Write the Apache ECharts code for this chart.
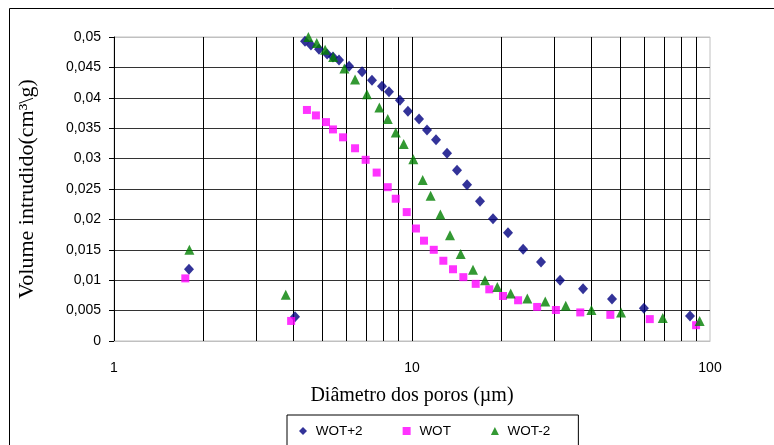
<!DOCTYPE html>
<html>
<head>
<meta charset="utf-8">
<script src="https://cdn.jsdelivr.net/npm/echarts@6/dist/echarts.min.js"></script>
<style>
  html, body { margin: 0; padding: 0; background: #fff; }
  #chart { width: 774px; height: 445px; }
</style>
</head>
<body>
<div id="chart"></div>
<script>
// pore diameter (µm) and intruded volume (cm3/g)
const wotPlus2X = [1.785, 4.05, 4.375, 4.58, 4.875, 5.19, 5.43, 5.69, 6.15, 6.8, 7.34, 7.93, 8.37, 9.11, 9.69,
  10.56, 11.23, 12.04, 13.11, 14.16, 15.3, 16.91, 18.7, 21.0, 23.6, 27.1, 31.4, 37.5, 46.9, 60.0, 85.7];
const wotPlus2Y = [0.0118, 0.0040, 0.0493, 0.0487, 0.0480, 0.0472, 0.0467, 0.0462, 0.0452, 0.0443, 0.0429, 0.0419, 0.0410, 0.0396, 0.0378,
  0.0365, 0.0347, 0.0331, 0.0309, 0.0281, 0.0257, 0.0230, 0.0201, 0.0178, 0.0151, 0.0130, 0.0100, 0.0086, 0.0069, 0.0054, 0.0041];

const wotX = [1.735, 3.93, 4.44, 4.76, 5.145, 5.43, 5.87, 6.44, 6.99, 7.61, 8.29, 8.82, 9.6,
  10.31, 10.97, 11.83, 12.74, 13.73, 14.87, 16.36, 18.17, 20.2, 22.7, 26.3, 30.4, 36.7, 46.3, 62.8, 89.8];
const wotY = [0.0103, 0.0033, 0.0380, 0.0371, 0.0360, 0.0348, 0.0335, 0.0317, 0.0298, 0.0277, 0.0253, 0.0234, 0.0212,
  0.0185, 0.0165, 0.0150, 0.0132, 0.0118, 0.0105, 0.0094, 0.0085, 0.0074, 0.0067, 0.0056, 0.0051, 0.0047, 0.0043, 0.0036, 0.0026];

const wotMinus2X = [1.79, 3.77, 4.49, 4.79, 5.11, 5.44, 5.93, 6.44, 7.06, 7.77, 8.29, 8.82, 9.38,
  10.1, 10.86, 11.55, 12.45, 13.41, 14.57, 16.02, 17.58, 19.33, 21.44, 24.38, 28.0, 32.8, 40.0, 50.3, 69.4, 92.3];
const wotMinus2Y = [0.0150, 0.0076, 0.0500, 0.0490, 0.0479, 0.0467, 0.0448, 0.0430, 0.0406, 0.0384, 0.0365, 0.0343, 0.0324,
  0.0299, 0.0265, 0.0239, 0.0208, 0.0174, 0.0143, 0.0117, 0.0100, 0.0089, 0.0078, 0.0070, 0.0065, 0.0058, 0.0051, 0.0047, 0.0038, 0.0033];

// vertical grid lines of the log axis
const logGridX = [2, 3, 4, 5, 6, 7, 8, 9, 10, 20, 30, 40, 50, 60, 70, 80, 90];

const seriesNames = ['WOT+2', 'WOT', 'WOT-2'];

function pairs(xs, ys) {
  return xs.map((x, i) => [x, ys[i]]);
}

const chart = echarts.init(document.getElementById('chart'));

const splitColors = ['#c0c0c0'];
for (let i = 0; i < 9; i++) splitColors.push('#333');
splitColors.push('#c0c0c0');

chart.setOption({
  animation: false,
  backgroundColor: '#fff',
  graphic: [{
    type: 'rect',
    shape: { x: 9.5, y: 8.5, width: 900, height: 600 },
    style: { fill: 'none', stroke: '#000', lineWidth: 1 },
    silent: true,
    z: 0
  }],
  grid: {
    left: 114,
    top: 37,
    right: 64,
    bottom: 104,
    show: true,
    borderColor: '#c0c0c0',
    borderWidth: 1
  },
  legend: {
    left: 287,
    top: 415,
    orient: 'horizontal',
    data: [
      { name: 'WOT+2', icon: 'diamond' },
      { name: 'WOT', icon: 'rect' },
      { name: 'WOT-2', icon: 'triangle' }
    ],
    formatter: name => ' ' + name,
    itemWidth: 8,
    itemHeight: 8,
    itemGap: 40,
    padding: [9, 28, 14, 12],
    borderColor: '#000',
    borderWidth: 1,
    borderRadius: 0,
    textStyle: { fontFamily: 'Liberation Sans', fontSize: 13.5, color: '#000' }
  },
  xAxis: {
    type: 'log',
    logBase: 10,
    min: 1,
    max: 100,
    name: 'Diâmetro dos poros (µm)',
    nameLocation: 'middle',
    nameGap: 45,
    nameTextStyle: { fontFamily: 'Liberation Serif', fontSize: 20, color: '#000' },
    axisLine: { lineStyle: { color: '#c0c0c0', width: 1 } },
    axisTick: { show: false },
    axisLabel: { margin: 20, fontFamily: 'Liberation Sans', fontSize: 14, color: '#000' },
    splitLine: { show: false },
    minorTick: { show: false }
  },
  yAxis: {
    type: 'value',
    min: 0,
    max: 0.05,
    interval: 0.005,
    name: 'Volume intrudido(cm³\\g)',
    nameLocation: 'middle',
    nameGap: 76,
    nameTextStyle: { fontFamily: 'Liberation Serif', fontSize: 22, color: '#000' },
    axisLine: { show: true, lineStyle: { color: '#000', width: 1 } },
    axisTick: { show: true, length: 5, lineStyle: { color: '#000' } },
    axisLabel: {
      margin: 13,
      fontFamily: 'Liberation Sans',
      fontSize: 14,
      color: '#000',
      formatter: v => String(+v.toFixed(3)).replace('.', ',')
    },
    splitLine: { show: true, lineStyle: { color: splitColors, width: 1 } }
  },
  series: [
    {
      name: seriesNames[0],
      type: 'scatter',
      symbol: 'diamond',
      symbolSize: [10, 11],
      itemStyle: { color: '#000080' },
      data: pairs(wotPlus2X, wotPlus2Y),
      z: 3,
      markLine: {
        silent: true,
        z: 1,
        symbol: ['none', 'none'],
        label: { show: false },
        lineStyle: { color: '#000', type: 'solid', width: 1 },
        emphasis: { disabled: true },
        data: logGridX.map(v => ({ xAxis: v }))
      }
    },
    {
      name: seriesNames[1],
      type: 'scatter',
      symbol: 'rect',
      symbolSize: 8,
      itemStyle: { color: '#ff00ff' },
      data: pairs(wotX, wotY),
      z: 4
    },
    {
      name: seriesNames[2],
      type: 'scatter',
      symbol: 'triangle',
      symbolSize: 10,
      itemStyle: { color: '#008000' },
      data: pairs(wotMinus2X, wotMinus2Y),
      z: 5
    }
  ]
});
</script>
</body>
</html>
